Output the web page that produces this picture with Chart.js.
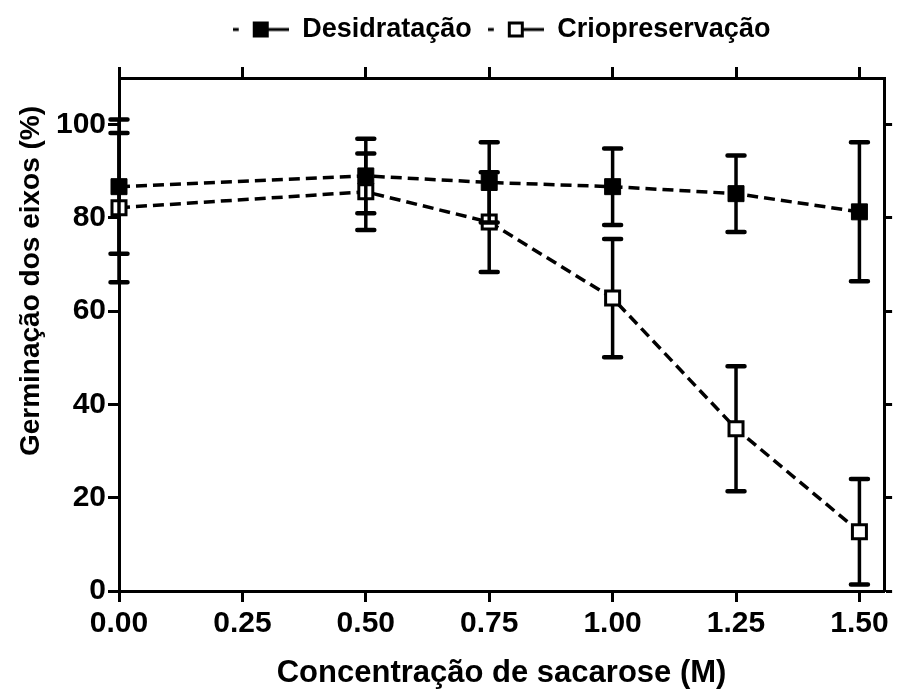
<!DOCTYPE html>
<html lang="pt">
<head>
<meta charset="utf-8">
<title>Germinação dos eixos</title>
<script src="https://cdn.jsdelivr.net/npm/chart.js@4/dist/chart.umd.min.js"></script>
<style>
  html, body { margin: 0; padding: 0; background: #fff; }
  canvas { display: block; }
</style>
</head>
<body>
<canvas id="grafico" width="897" height="691"></canvas>
<script>
// ─── 1. DADOS ──────────────────────────────────────────────────────────────────
const concentracao     = [0, 0.5, 0.75, 1.0, 1.25, 1.5];
const desidratacao     = [86.7, 89.0, 87.6, 86.7, 85.2, 81.3];
const desidratacaoErro = [14.4, 8.0, 8.6, 8.2, 8.2, 14.9];
const criopreservacao  = [82.2, 85.6, 79.1, 62.8, 34.8, 12.7];
const crioErro         = [16.0, 8.2, 10.7, 12.7, 13.4, 11.3];
const yTicks           = [0, 20, 40, 60, 80, 100];
const xTicks           = [0, 0.25, 0.5, 0.75, 1.0, 1.25, 1.5];

const FONTE = '"Liberation Sans", Arial, Helvetica, sans-serif';
Chart.defaults.font.family = FONTE;
Chart.defaults.font.weight = 'bold';
Chart.defaults.color = '#000';

// ─── 2. AMOSTRA DA LEGENDA (- ■—) ─────────────────────────────────────────────
function amostraLegenda(cheio) {
  const c = document.createElement('canvas');
  c.width = 56;
  c.height = 20;
  const g = c.getContext('2d');
  g.strokeStyle = '#000';
  g.lineWidth = 3;
  g.beginPath();
  g.moveTo(0, 10);  g.lineTo(6, 10);
  g.moveTo(36, 10); g.lineTo(56, 10);
  g.stroke();
  if (cheio) {
    g.fillStyle = '#000';
    g.fillRect(20, 2, 16, 16);
  } else {
    g.fillStyle = '#fff';
    g.fillRect(21, 3, 14, 14);
    g.strokeRect(21.5, 3.5, 13, 13);
  }
  return c;
}

// ─── 3. BARRAS DE ERRO ────────────────────────────────────────────────────────
const erros = [desidratacaoErro, crioErro];

const barrasErro = {
  id: 'barrasErro',
  beforeDatasetDraw(chart, args) {
    const { ctx, scales: { x, y } } = chart;
    const valores = chart.data.datasets[args.index].data;
    const erro = erros[args.index];
    ctx.save();
    ctx.strokeStyle = '#000';
    valores.forEach((p, i) => {
      const px = x.getPixelForValue(p.x);
      const yTop = y.getPixelForValue(p.y + erro[i]);
      const yBot = y.getPixelForValue(p.y - erro[i]);
      ctx.lineWidth = 3.5;
      ctx.lineCap = 'butt';
      ctx.beginPath();
      ctx.moveTo(px, yTop);
      ctx.lineTo(px, yBot);
      ctx.stroke();
      ctx.lineWidth = 4.5;
      ctx.lineCap = 'round';
      ctx.beginPath();
      ctx.moveTo(px - 8.5, yTop); ctx.lineTo(px + 8.5, yTop);
      ctx.moveTo(px - 8.5, yBot); ctx.lineTo(px + 8.5, yBot);
      ctx.stroke();
    });
    ctx.restore();
  }
};

// ─── 4. TÍTULO DO EIXO Y ──────────────────────────────────────────────────────
const tituloY = {
  id: 'tituloY',
  afterDraw(chart) {
    const { ctx } = chart;
    ctx.save();
    ctx.translate(31, 281);
    ctx.rotate(-Math.PI / 2);
    ctx.font = 'bold 28px ' + FONTE;
    ctx.fillStyle = '#000';
    ctx.textAlign = 'center';
    ctx.textBaseline = 'middle';
    ctx.fillText('Germinação dos eixos (%)', 0, 0);
    ctx.restore();
  }
};

// ─── 5. GRÁFICO ───────────────────────────────────────────────────────────────
const eixoBase = {
  type: 'linear',
  border: { color: '#000', width: 3 }
};

const gradeEixo = (tl) => ({
  drawOnChartArea: false,
  tickLength: tl,
  tickWidth: 3,
  tickColor: '#000'
});

new Chart(document.getElementById('grafico'), {
  type: 'line',
  data: {
    datasets: [
      {
        label: 'Desidratação',
        data: concentracao.map((c, i) => ({ x: c, y: desidratacao[i] })),
        borderColor: '#000',
        borderWidth: 3.5,
        borderDash: [11, 6],
        pointStyle: 'rect',
        pointRadius: 11.3,
        pointBackgroundColor: '#000',
        pointBorderColor: '#000',
        pointBorderWidth: 1,
        clip: false
      },
      {
        label: 'Criopreservação',
        data: concentracao.map((c, i) => ({ x: c, y: criopreservacao[i] })),
        borderColor: '#000',
        borderWidth: 3.5,
        borderDash: [11, 6],
        pointStyle: 'rect',
        pointRadius: 9.9,
        pointBackgroundColor: '#fff',
        pointBorderColor: '#000',
        pointBorderWidth: 3,
        clip: false
      }
    ]
  },
  options: {
    responsive: false,
    animation: false,
    layout: { padding: 0 },
    plugins: {
      tooltip: { enabled: false },
      legend: {
        position: 'top',
        fullSize: false,
        labels: {
          usePointStyle: true,
          pointStyleWidth: 56,
          padding: 16,
          font: { size: 27, weight: 'bold' },
          color: '#000',
          generateLabels: chart => chart.data.datasets.map((ds, i) => ({
            text: ds.label,
            pointStyle: amostraLegenda(i === 0),
            datasetIndex: i,
            hidden: false,
            fontColor: '#000'
          }))
        }
      }
    },
    scales: {
      x: {
        ...eixoBase,
        position: 'bottom',
        min: 0,
        max: 1.55,
        afterBuildTicks: s => { s.ticks = xTicks.map(v => ({ value: v })); },
        ticks: {
          callback: v => v.toFixed(2),
          font: { size: 30, weight: 'bold' },
          color: '#000',
          padding: 4,
          maxRotation: 0,
          autoSkip: false
        },
        grid: gradeEixo(11),
        title: {
          display: true,
          text: 'Concentração de sacarose (M)',
          font: { size: 31, weight: 'bold', lineHeight: 1.1 },
          color: '#000',
          padding: 0
        },
        afterFit: s => { s.height = 100; }
      },
      x2: {
        ...eixoBase,
        position: 'top',
        min: 0,
        max: 1.55,
        afterBuildTicks: s => { s.ticks = xTicks.map(v => ({ value: v })); },
        ticks: { display: false },
        grid: gradeEixo(11),
        afterFit: s => { s.height = 25; }
      },
      y: {
        ...eixoBase,
        position: 'left',
        min: 0,
        max: 110,
        afterBuildTicks: s => { s.ticks = yTicks.map(v => ({ value: v })); },
        ticks: {
          font: { size: 30, weight: 'bold' },
          color: '#000',
          padding: 2
        },
        grid: gradeEixo(11),
        afterFit: s => { s.width = 119; }
      },
      y2: {
        ...eixoBase,
        position: 'right',
        min: 0,
        max: 110,
        afterBuildTicks: s => { s.ticks = yTicks.map(v => ({ value: v })); },
        ticks: { display: false },
        grid: gradeEixo(8),
        afterFit: s => { s.width = 9; }
      }
    }
  },
  plugins: [barrasErro, tituloY]
});
</script>
</body>
</html>
